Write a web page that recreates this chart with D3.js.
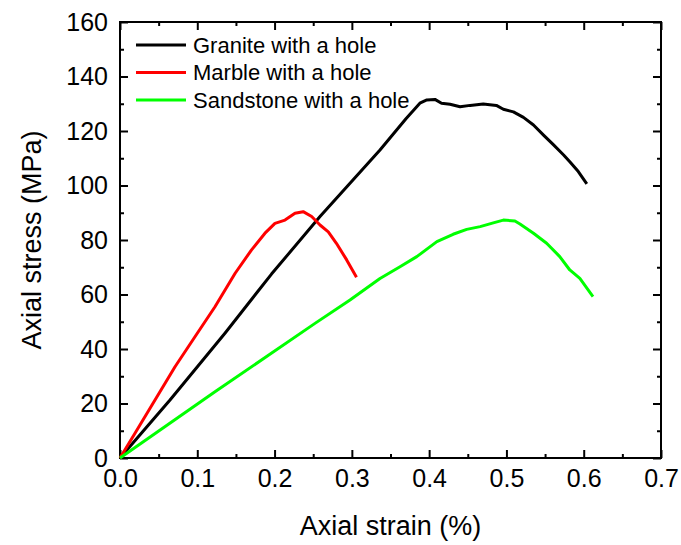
<!DOCTYPE html>
<html>
<head>
<meta charset="utf-8">
<script src="https://cdn.jsdelivr.net/npm/d3@7"></script>
<style>
  body { margin: 0; background: #fff; }
  svg { font-family: "Liberation Sans", Arial, sans-serif; }
</style>
</head>
<body>
<svg id="chart" width="681" height="545"></svg>
<script>
// curves: [strain %, stress MPa]
const granite = [
  [0, 0], [0.0647, 21.3], [0.1358, 45.8], [0.196, 67.5], [0.2588, 88.6],
  [0.3364, 113], [0.37, 124.5], [0.388, 130.2], [0.397, 131.4], [0.4075, 131.6],
  [0.416, 130.2], [0.427, 129.8], [0.44, 128.9], [0.453, 129.4], [0.47, 129.9],
  [0.487, 129.4], [0.496, 128.0], [0.509, 127.0], [0.522, 125.0], [0.535, 122.2],
  [0.548, 118.5], [0.561, 114.9], [0.574, 111.2], [0.582, 108.7], [0.593, 105.1],
  [0.604, 100.6]
]
const marble = [
  [0, 0], [0.0194, 9.05], [0.0453, 21.3], [0.0712, 33.5], [0.097, 44.5],
  [0.1229, 55.5], [0.149, 67.8], [0.17, 76.3], [0.1876, 82.5], [0.2005, 86.1],
  [0.2135, 87.3], [0.2264, 89.8], [0.237, 90.4], [0.248, 88.6], [0.2588, 85.5],
  [0.2695, 83.0], [0.28, 78.8], [0.2933, 72.7], [0.306, 66.3]
]
const sandstone = [
  [0, 0], [0.1229, 24.3], [0.2523, 49.4], [0.2976, 58], [0.3364, 65.9], [0.3623, 70.2],
  [0.384, 73.9], [0.41, 79.4], [0.431, 82.1], [0.4486, 83.9], [0.466, 84.9],
  [0.483, 86.3], [0.496, 87.3], [0.511, 87.0], [0.5175, 85.9], [0.535, 82.5],
  [0.552, 78.8], [0.569, 73.9], [0.582, 69.0], [0.595, 65.9], [0.612, 59.2]
]
const seriesNames = ["Granite with a hole", "Marble with a hole", "Sandstone with a hole"]
const seriesColors = ["#000000", "#ff0000", "#00ff00"]
const xTicks = [0, 0.1, 0.2, 0.3, 0.4, 0.5, 0.6, 0.7]
const yTicks = [0, 20, 40, 60, 80, 100, 120, 140, 160]

const svg = d3.select("#chart")
const pLeft = 120, pRight = 661, pTop = 22, pBottom = 458

const x = d3.scaleLinear().domain([0, 0.7]).range([pLeft, pRight])
const y = d3.scaleLinear().domain([0, 160]).range([pBottom, pTop])

const xMinor = d3.range(0.05, 0.7, 0.1)
const yMinor = d3.range(10, 160, 20)

// bottom axis
const gx = svg.append("g").attr("transform", `translate(0,${pBottom})`)
gx.call(d3.axisBottom(x).tickValues(xTicks).tickFormat(d3.format(".1f")).tickSizeInner(-8).tickSizeOuter(0).tickPadding(11))
gx.append("g").call(d3.axisBottom(x).tickValues(xMinor).tickFormat("").tickSizeInner(-4).tickSizeOuter(0))

// top axis
const gt = svg.append("g").attr("transform", `translate(0,${pTop})`)
gt.call(d3.axisTop(x).tickValues(xTicks).tickFormat("").tickSizeInner(-8).tickSizeOuter(0))
gt.append("g").call(d3.axisTop(x).tickValues(xMinor).tickFormat("").tickSizeInner(-4).tickSizeOuter(0))

// left axis
const gy = svg.append("g").attr("transform", `translate(${pLeft},0)`)
gy.call(d3.axisLeft(y).tickValues(yTicks).tickSizeInner(-8).tickSizeOuter(0).tickPadding(12))
gy.append("g").call(d3.axisLeft(y).tickValues(yMinor).tickFormat("").tickSizeInner(-4).tickSizeOuter(0))

// right axis
const gr = svg.append("g").attr("transform", `translate(${pRight},0)`)
gr.call(d3.axisRight(y).tickValues(yTicks).tickFormat("").tickSizeInner(-8).tickSizeOuter(0))
gr.append("g").call(d3.axisRight(y).tickValues(yMinor).tickFormat("").tickSizeInner(-4).tickSizeOuter(0))

svg.selectAll(".tick line").attr("stroke", "#000").attr("stroke-width", 2)
svg.selectAll(".tick text").attr("fill", "#000").attr("font-size", 25)
svg.selectAll(".domain").remove()

// frame
svg.append("rect")
    .attr("x", pLeft).attr("y", pTop)
    .attr("width", pRight - pLeft).attr("height", pBottom - pTop)
    .attr("fill", "none").attr("stroke", "#000").attr("stroke-width", 2)

// curves
const line = d3.line().x(d => x(d[0])).y(d => y(d[1]))
const allSeries = [granite, marble, sandstone]
allSeries.forEach((data, i) => {
    svg.append("path")
        .attr("d", line(data))
        .attr("fill", "none")
        .attr("stroke", seriesColors[i])
        .attr("stroke-width", 3)
        .attr("stroke-linejoin", "round")
})

// legend
seriesNames.forEach((name, i) => {
    const ly = 45 + i * 27.5
    svg.append("line")
        .attr("x1", 136).attr("x2", 186)
        .attr("y1", ly).attr("y2", ly)
        .attr("stroke", seriesColors[i]).attr("stroke-width", 3)
    svg.append("text")
        .attr("x", 193).attr("y", ly)
        .attr("dy", "0.35em")
        .attr("font-size", 22)
        .text(name)
})

// axis titles
svg.append("text")
    .attr("x", (pLeft + pRight) / 2).attr("y", 535)
    .attr("text-anchor", "middle")
    .attr("font-size", 27)
    .text("Axial strain (%)")

svg.append("text")
    .attr("transform", `translate(41,${(pTop + pBottom) / 2}) rotate(-90)`)
    .attr("text-anchor", "middle")
    .attr("font-size", 27)
    .text("Axial stress (MPa)")
</script>
</body>
</html>
